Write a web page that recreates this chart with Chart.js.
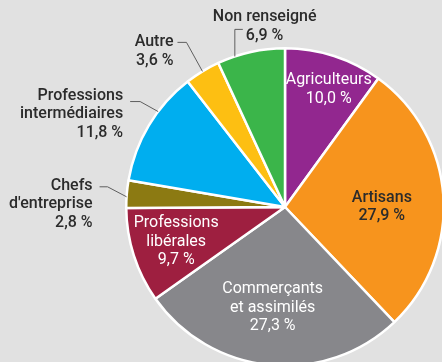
<!DOCTYPE html>
<html lang="fr">
<head>
<meta charset="utf-8">
<title>Répartition par catégorie</title>
<script src="https://cdn.jsdelivr.net/npm/chart.js@4.4.1/dist/chart.umd.min.js"></script>
<style>
    html, body { margin: 0; padding: 0; background: #e1e1e1; overflow: hidden; }
    #wrap { position: absolute; left: 0; top: 0; width: 460px; height: 380px; }
</style>
</head>
<body>
<div id="wrap"><canvas id="myChart" width="460" height="380"></canvas></div>
<script>
// categories, clockwise from 12 o'clock
var categories = ['Agriculteurs', 'Artisans', 'Commerçants et assimilés', 'Professions libérales',
    "Chefs d'entreprise", 'Professions intermédiaires', 'Autre', 'Non renseigné'];
var nameLines = [['Agriculteurs'], ['Artisans'], ['Commerçants', 'et assimilés'], ['Professions', 'libérales'],
    ['Chefs', "d'entreprise"], ['Professions', 'intermédiaires'], ['Autre'], ['Non renseigné']];
var values = [10.0, 27.9, 27.3, 9.7, 2.8, 11.8, 3.6, 6.9];
var colors = ['#92278f', '#f7941d', '#87878b', '#9e1f40', '#8c7a12', '#00aeef', '#fdbf12', '#3bb54a'];

// where each label goes: inside the slice, or outside with a leader line
var labelLayout =
[
    { inside: true, k: 0.79, shift: 2.4, color: '#ffffff' },
    { inside: true, k: 0.61, shift: 3.8, color: '#2b2b2b' },
    { inside: true, k: 0.64, shift: 1.4, color: '#ffffff' },
    { inside: true, k: 0.72, shift: 0, color: '#ffffff' },
    { inside: false, shift: -1, elbow: [-19, -10], tail: -8, align: 'right', lineDx: [-7, -7, -7], dy0: -1 },
    { inside: false, shift: 6, elbow: [-18, -10], tail: -10, align: 'right', lineDx: [-7, -7, -7], dy0: -6 },
    { inside: false, shift: 0, elbow: [-16, -29], tail: -9, align: 'right', lineDx: [-4, -4], dy0: 0 },
    { inside: false, shift: -6, elbow: [0, -27], tail: 8, align: 'left', lineDx: [-30, 3], dy0: -12 }
];

var LINE_H = 18.5;

function FormatValue (_v)
{
    return _v.toFixed(1).replace('.', ',') + ' %';
}

var sliceLabels =
{
    id: 'sliceLabels',
    afterDatasetsDraw: function (chart)
    {
        var ctx = chart.ctx;
        var arcs = chart.getDatasetMeta(0).data;
        ctx.save();
        ctx.textBaseline = 'middle';

        arcs.forEach(function (arc, i) {
            var p = arc.getProps(['x', 'y', 'startAngle', 'endAngle', 'outerRadius']);
            var layout = labelLayout[i];
            var a = (p.startAngle + p.endAngle) / 2 + layout.shift * Math.PI / 180;
            var lines = nameLines[i].concat([FormatValue(values[i])]);

            if (layout.inside)
            {
                var cx = p.x + Math.cos(a) * p.outerRadius * layout.k;
                var cy = p.y + Math.sin(a) * p.outerRadius * layout.k;
                var top = cy - (lines.length - 1) * LINE_H / 2;
                // white text reads heavier, so it stays at regular weight
                ctx.font = (layout.color === '#ffffff' ? '400' : '500') + ' 16px Roboto';
                ctx.fillStyle = layout.color;
                ctx.textAlign = 'center';
                lines.forEach(function (line, j) {
                    ctx.fillText(line, cx, top + j * LINE_H);
                });
            }
            else
            {
                var sx = p.x + Math.cos(a) * p.outerRadius;
                var sy = p.y + Math.sin(a) * p.outerRadius;
                var ex = sx + layout.elbow[0];
                var ey = sy + layout.elbow[1];
                var tx = ex + layout.tail;

                ctx.strokeStyle = '#5e5e5e';
                ctx.lineWidth = 1;
                ctx.beginPath();
                ctx.moveTo(sx, sy);
                ctx.lineTo(ex, ey);
                ctx.lineTo(tx, ey);
                ctx.stroke();

                ctx.font = '500 16px Roboto';
                ctx.fillStyle = '#2b2b2b';
                ctx.textAlign = layout.align;
                lines.forEach(function (line, j) {
                    ctx.fillText(line, tx + layout.lineDx[j], ey + layout.dy0 + j * LINE_H);
                });
            }
        });
        ctx.restore();
    }
};

DrawChart();

function DrawChart ()
{
    var config =
    {
        type: 'pie',
        data:
        {
            labels: categories,
            datasets:
            [
                {
                    data: values,
                    backgroundColor: colors,
                    borderColor: '#ffffff',
                    borderWidth: 2.5
                }
            ]
        },
        options:
        {
            responsive: false,
            animation: false,
            devicePixelRatio: 1,
            layout:
            {
                padding: { left: 125, top: 47, right: 15, bottom: 13 }
            },
            plugins:
            {
                legend: { display: false },
                tooltip: { enabled: false }
            }
        },
        plugins: [sliceLabels]
    };

    var ctx = document.getElementById('myChart').getContext('2d');
    new Chart(ctx, config);
}
</script>
</body>
</html>
